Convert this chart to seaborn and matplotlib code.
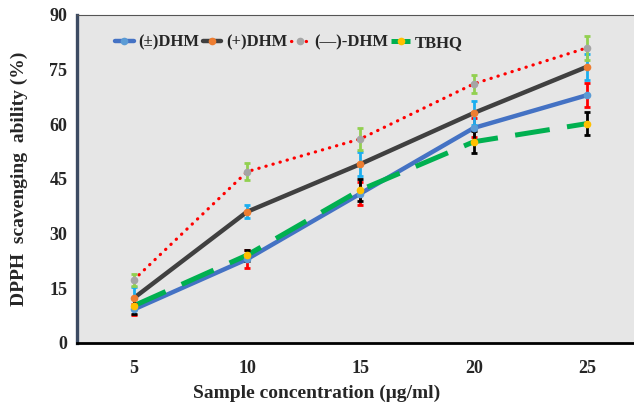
import matplotlib
matplotlib.use("Agg")
import matplotlib.pyplot as plt
from matplotlib.lines import Line2D
from matplotlib.ticker import MultipleLocator, FixedLocator
import seaborn as sns
import pandas as pd

sns.set_style("white")
plt.rcParams['font.family'] = ['Liberation Serif', 'DejaVu Serif']
plt.rcParams['font.weight'] = 'bold'

concentrations = [5, 10, 15, 20, 25]
series_names = ["(±)DHM", "(+)DHM", "(—)-DHM", "TBHQ"]
rac_dhm = [9.2, 23.0, 41.0, 59.0, 68.0]
plus_dhm = [12.3, 36.0, 49.1, 63.1, 75.8]
minus_dhm = [17.3, 47.0, 56.0, 71.1, 81.0]
tbhq = [10.2, 24.1, 42.0, 55.2, 60.2]
rac_err = [1.4, 2.4, 3.2, 2.6, 3.3]
plus_err = [3.0, 1.8, 3.4, 3.3, 3.6]
minus_err = [1.6, 2.4, 3.0, 2.4, 3.3]
tbhq_err = [2.2, 1.5, 3.0, 3.0, 3.2]

values = [rac_dhm, plus_dhm, minus_dhm, tbhq]
errors = [rac_err, plus_err, minus_err, tbhq_err]
line_colors = ["#4472c4", "#404040", "#ff0000", "#00b050"]
marker_colors = ["#5b9bd5", "#ed7d31", "#a5a5a5", "#ffc000"]
err_colors = ["#ff0000", "#1aaef0", "#92d050", "#000000"]
line_styles = ["-", "-", (0, (0.1, 2.2)), (0, (7, 3.5))]
line_widths = [3.2, 3.2, 2.3, 3.6]

fig = plt.figure(figsize=(6.34, 4.04), dpi=100)
ax = fig.add_axes([0.1215, 0.151, 0.894, 0.812])
ax.set_facecolor("#e6e6e6")

for name, v, lc, ls, lw in zip(series_names, values, line_colors, line_styles, line_widths):
    df = pd.DataFrame({"x": concentrations, "y": v})
    sns.lineplot(data=df, x="x", y="y", ax=ax, color=lc, linewidth=lw,
                 zorder=2, legend=False)
    ln = ax.lines[-1]
    ln.set_linestyle(ls)
    if name == "(—)-DHM":
        ln.set_dash_capstyle("round")

for v, e, ec in zip(values, errors, err_colors):
    ax.errorbar(concentrations, v, yerr=e, fmt="none", ecolor=ec,
                elinewidth=2.0, capsize=2.5, capthick=2.0, zorder=3)

for v, mc in zip(values, marker_colors):
    ax.plot(concentrations, v, linestyle="none", marker="o", markersize=4.5,
            markerfacecolor=mc, markeredgecolor=mc, zorder=4)

ax.set_xlim(2.5, 27.5)
ax.set_ylim(0, 90)
ax.xaxis.set_major_locator(FixedLocator(concentrations))
ax.xaxis.set_minor_locator(FixedLocator([7.5, 12.5, 17.5, 22.5]))
ax.yaxis.set_major_locator(MultipleLocator(15))
ax.yaxis.set_minor_locator(MultipleLocator(5))

axis_col = "#3d4b63"
ax.spines["right"].set_visible(False)
ax.spines["top"].set_color("#555555")
ax.spines["top"].set_linewidth(0.8)
ax.spines["left"].set_color(axis_col)
ax.spines["left"].set_linewidth(2.4)
ax.spines["bottom"].set_color("black")
ax.spines["bottom"].set_linewidth(2.0)

ax.tick_params(axis="y", which="major", direction="out", length=5, width=2.2,
               color=axis_col, labelsize=13, pad=2)
ax.tick_params(axis="y", which="minor", direction="in", length=3, width=1.8,
               color=axis_col)
ax.tick_params(axis="x", which="major", direction="in", length=4, width=2.0,
               color="black", labelsize=13, pad=12)
ax.tick_params(axis="x", which="minor", direction="out", length=5, width=2.0,
               color="black")
for lab in ax.get_xticklabels() + ax.get_yticklabels():
    lab.set_fontweight("bold")

ax.set_xlabel("Sample concentration (μg/ml)", fontsize=14, fontweight="bold")
ax.xaxis.set_label_coords((317 - 77) / 567, -0.128)
ax.set_ylabel("DPPH  scavenging  ability (%)", fontsize=14, fontweight="bold")
ax.yaxis.set_label_coords(-0.086, 0.5)

handles = []
for name, lc, ls, lw, mc in zip(series_names, line_colors, line_styles, line_widths, marker_colors):
    h = Line2D([0], [0], color=lc, linestyle=ls, linewidth=lw, marker="o",
               markersize=4.5, markerfacecolor=mc, markeredgecolor=mc,
               dash_capstyle="round" if name == "(—)-DHM" else "butt")
    handles.append(h)
leg = ax.legend(handles, series_names, loc="center", bbox_to_anchor=(0.374, 0.915),
                ncol=4, frameon=False, fontsize=12, handlelength=1.1,
                handletextpad=0.3, columnspacing=0.2, borderaxespad=0)
for t in leg.get_texts():
    t.set_fontweight("bold")

fig.savefig("out.png", dpi=100)
